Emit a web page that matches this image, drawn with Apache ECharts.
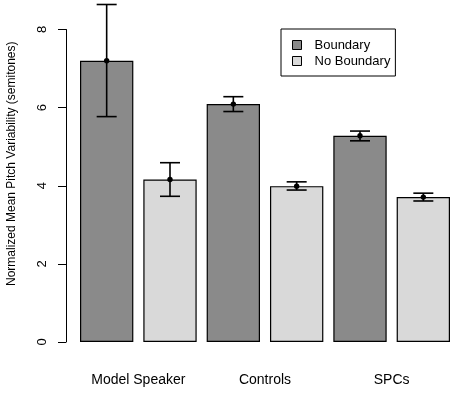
<!DOCTYPE html>
<html>
<head>
<meta charset="utf-8">
<script src="https://cdn.jsdelivr.net/npm/echarts@6/dist/echarts.min.js"></script>
<style>html,body{margin:0;padding:0;background:#fff}#c{width:454px;height:393px}</style>
</head>
<body>
<div id="c"></div>
<script>
var categories = ['Model Speaker', 'Controls', 'SPCs'];
var seriesNames = ['Boundary', 'No Boundary'];
var boundaryMean = [7.20, 6.09, 5.28];
var boundaryLow = [5.77, 5.90, 5.15];
var boundaryHigh = [8.64, 6.28, 5.40];
var noBoundaryMean = [4.16, 3.99, 3.71];
var noBoundaryLow = [3.73, 3.89, 3.61];
var noBoundaryHigh = [4.59, 4.10, 3.81];
var yTicks = [0, 2, 4, 6, 8];

var FONT = 'Liberation Sans, Arial, Helvetica, sans-serif';
var BAR_W = 53.33;
var SLOT = 63.33;

function errData(mean, low, high) {
  return categories.map(function (c, i) { return [i, low[i], high[i], mean[i]]; });
}
function errRender(offset) {
  return function (params, api) {
    var xi = api.value(0);
    var pLow = api.coord([xi, api.value(1)]);
    var pHigh = api.coord([xi, api.value(2)]);
    var pMean = api.coord([xi, api.value(3)]);
    var x = pLow[0] + offset;
    var hw = 10;
    var st = { stroke: '#000', lineWidth: 1.6 };
    return {
      type: 'group',
      children: [
        { type: 'line', shape: { x1: x, y1: pLow[1], x2: x, y2: pHigh[1] }, style: st },
        { type: 'line', shape: { x1: x - hw, y1: pLow[1], x2: x + hw, y2: pLow[1] }, style: st },
        { type: 'line', shape: { x1: x - hw, y1: pHigh[1], x2: x + hw, y2: pHigh[1] }, style: st },
        { type: 'circle', shape: { cx: x, cy: pMean[1], r: 2.7 }, style: { fill: '#000' } }
      ]
    };
  };
}

var chart = echarts.init(document.getElementById('c'), null, { renderer: 'canvas' });
chart.setOption({
  animation: false,
  backgroundColor: '#fff',
  textStyle: { fontFamily: FONT },
  grid: { left: 75, width: 380, top: 29.5, bottom: 51, containLabel: false, outerBoundsMode: 'none' },
  legend: {
    left: 281, top: 29,
    orient: 'vertical',
    data: seriesNames,
    borderColor: '#000', borderWidth: 1, borderRadius: 0,
    padding: [9, 5, 8, 11],
    itemWidth: 9, itemHeight: 9, itemGap: 2,
    icon: 'rect',
    itemStyle: { borderColor: '#000', borderWidth: 1 },
    textStyle: { fontFamily: FONT, fontSize: 13, color: '#000', lineHeight: 14, padding: [0, 0, 0, 8] }
  },
  xAxis: {
    type: 'category',
    data: categories,
    axisLine: { show: false },
    axisTick: { show: false },
    axisLabel: { margin: 31, fontSize: 14, color: '#000', fontFamily: FONT }
  },
  yAxis: {
    type: 'value',
    min: 0, max: 8, interval: 2,
    position: 'left',
    offset: 9,
    name: 'Normalized Mean Pitch Variability (semitones)',
    nameLocation: 'middle',
    nameGap: 48,
    nameRotate: 90,
    nameTextStyle: { fontSize: 12, color: '#000', fontFamily: FONT, padding: [0, 0, 0, 44] },
    axisLine: { show: true, lineStyle: { color: '#000', width: 1 } },
    axisTick: { show: true, length: 8, lineStyle: { color: '#000' } },
    axisLabel: { rotate: 90, margin: 17, fontSize: 13, color: '#000', fontFamily: FONT, align: 'center', verticalAlign: 'bottom' },
    splitLine: { show: false }
  },
  series: [
    {
      name: seriesNames[0], type: 'bar', data: boundaryMean,
      barWidth: BAR_W, barGap: '18.75%',
      itemStyle: { color: '#8a8a8a', borderColor: '#000', borderWidth: 1.2 }
    },
    {
      name: seriesNames[1], type: 'bar', data: noBoundaryMean,
      barWidth: BAR_W, barGap: '18.75%',
      itemStyle: { color: '#d9d9d9', borderColor: '#000', borderWidth: 1.2 }
    },
    {
      type: 'custom', clip: false, z: 10,
      renderItem: errRender(-SLOT / 2),
      data: errData(boundaryMean, boundaryLow, boundaryHigh)
    },
    {
      type: 'custom', clip: false, z: 10,
      renderItem: errRender(SLOT / 2),
      data: errData(noBoundaryMean, noBoundaryLow, noBoundaryHigh)
    }
  ]
});
</script>
</body>
</html>
